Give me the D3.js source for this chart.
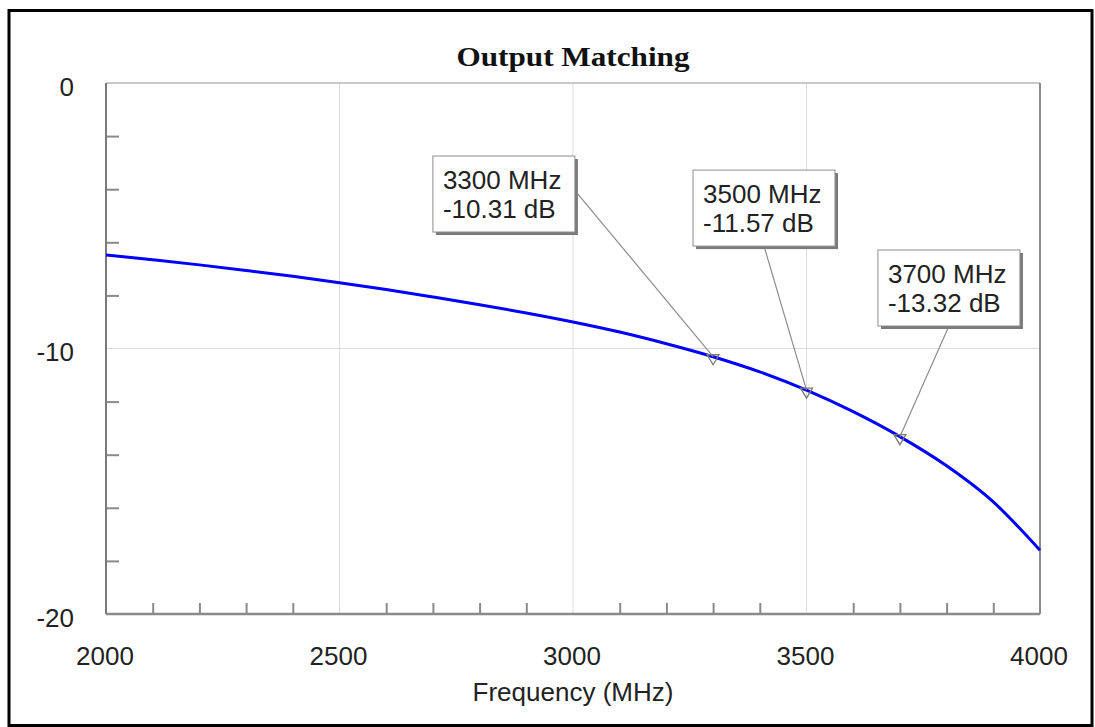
<!DOCTYPE html>
<html><head><meta charset="utf-8">
<script src="https://cdn.jsdelivr.net/npm/d3@7"></script>
<style>
html,body{margin:0;padding:0;background:#fff;}
svg{display:block;}
</style></head><body>
<svg id="chart" width="1095" height="727"></svg>
<script>
// ---- data ----
const freqs = [2000,2100,2200,2300,2400,2500,2600,2700,2800,2900,3000,3100,3200,3300,3400,3500,3600,3700,3800,3900,4000];
const dbValues = [-6.48,-6.66,-6.85,-7.06,-7.28,-7.52,-7.78,-8.06,-8.35,-8.66,-9.00,-9.38,-9.82,-10.31,-10.88,-11.57,-12.38,-13.32,-14.42,-15.78,-17.60];
const xTickValues = [2000,2500,3000,3500,4000];
const yTickValues = [0,-10,-20];
const gridFreqs = [2500,3000,3500];
const gridDb = [-10];
const markerFreqs = [3300,3500,3700];
const markerDb = [-10.31,-11.57,-13.32];
const markerLine1 = ["3300 MHz","3500 MHz","3700 MHz"];
const markerLine2 = ["-10.31 dB","-11.57 dB","-13.32 dB"];
const boxFreq = [2700,3257,3653];   // box left edge (data units)
const boxDb = [-2.75,-3.28,-6.29];  // box top edge (data units)
const titleText = "Output Matching";
const xTitle = "Frequency (MHz)";

// ---- layout ----
const m = {l:106, t:83, r:1040, b:614};
const svg = d3.select("#chart");
const x = d3.scaleLinear().domain([2000,4000]).range([m.l,m.r]);
const y = d3.scaleLinear().domain([-20,0]).range([m.b,m.t]);
const sans = "'Liberation Sans', Arial, sans-serif";

// outer frame
svg.append("rect").attr("x",9).attr("y",10.5).attr("width",1083).attr("height",715)
  .attr("fill","none").attr("stroke","#000").attr("stroke-width",3);

// grid
svg.append("g").selectAll("line").data(gridFreqs).join("line")
  .attr("x1",d=>x(d)).attr("x2",d=>x(d)).attr("y1",m.t).attr("y2",m.b)
  .attr("stroke","#dcdcdc").attr("stroke-width",1);
svg.append("g").selectAll("line").data(gridDb).join("line")
  .attr("x1",m.l).attr("x2",m.r).attr("y1",d=>y(d)).attr("y2",d=>y(d))
  .attr("stroke","#dcdcdc").attr("stroke-width",1);

// minor ticks via axes
const minorX = d3.range(2100,4000,100).filter(v=>!gridFreqs.includes(v));
const minorY = d3.range(-18,0,2).filter(v=>!gridDb.includes(v));
const gx = svg.append("g").attr("transform",`translate(0,${m.b})`)
  .call(d3.axisBottom(x).tickValues(minorX).tickSize(-11).tickFormat(""));
gx.select(".domain").remove();
gx.selectAll("line").attr("stroke","#8a8a8a").attr("stroke-width",2);
const gy = svg.append("g").attr("transform",`translate(${m.l},0)`)
  .call(d3.axisLeft(y).tickValues(minorY).tickSize(-13).tickFormat(""));
gy.select(".domain").remove();
gy.selectAll("line").attr("stroke","#8a8a8a").attr("stroke-width",2);

// plot borders
svg.append("line").attr("x1",m.l).attr("x2",m.r).attr("y1",m.t).attr("y2",m.t).attr("stroke","#c8c8c8").attr("stroke-width",2);
svg.append("line").attr("x1",m.r).attr("x2",m.r).attr("y1",m.t).attr("y2",m.b).attr("stroke","#8a8a8a").attr("stroke-width",2);
svg.append("line").attr("x1",m.l).attr("x2",m.r).attr("y1",m.b).attr("y2",m.b).attr("stroke","#8a8a8a").attr("stroke-width",2.5);
svg.append("line").attr("x1",m.l).attr("x2",m.l).attr("y1",m.t).attr("y2",m.b).attr("stroke","#7a7a7a").attr("stroke-width",2);

// tick labels
const xl = svg.append("g").attr("transform",`translate(-1.5,${m.b})`)
  .call(d3.axisBottom(x).tickValues(xTickValues).tickSize(0).tickPadding(33).tickFormat(d=>String(d)));
xl.select(".domain").remove();
xl.selectAll("text").attr("font-family",sans).attr("font-size",26).attr("fill","#222");
const yl = svg.append("g").attr("transform",`translate(${m.l},0)`)
  .call(d3.axisLeft(y).tickValues(yTickValues).tickSize(0).tickPadding(32).tickFormat(d=>String(d)));
yl.select(".domain").remove();
yl.selectAll("text").attr("font-family",sans).attr("font-size",26).attr("fill","#222").attr("dy","0.48em");

// titles
svg.append("text").attr("x",(m.l+m.r)/2).attr("y",66).attr("text-anchor","middle")
  .attr("font-family","'Liberation Serif','Times New Roman',serif").attr("font-weight","bold")
  .attr("font-size",26.5).attr("textLength",233).attr("lengthAdjust","spacingAndGlyphs")
  .attr("fill","#111").text(titleText);
svg.append("text").attr("x",(m.l+m.r)/2).attr("y",701).attr("text-anchor","middle")
  .attr("font-family",sans).attr("font-size",26).attr("fill","#222").text(xTitle);

// curve
const data = freqs.map((f,i)=>({f, v: dbValues[i]}));
svg.append("path").datum(data)
  .attr("d", d3.line().x(d=>x(d.f)).y(d=>y(d.v)).curve(d3.curveMonotoneX))
  .attr("fill","none").attr("stroke","#0000ff").attr("stroke-width",3);

// annotations
const boxW = 142, boxH = 76;
const ann = markerFreqs.map((f,i)=>({f, v: markerDb[i], l1: markerLine1[i], l2: markerLine2[i], bf: boxFreq[i], bv: boxDb[i]}));
const ag = svg.append("g");
ann.forEach(a=>{
  const px = x(a.f), py = y(a.v);
  const bx = x(a.bf), by = y(a.bv);
  const cx = bx + boxW/2, cy = by + boxH/2;
  const dx = px - cx, dy = py - cy;
  let sx, sy;
  if (Math.abs(dx) > Math.abs(dy)) { sx = dx > 0 ? bx + boxW + 3 : bx; sy = cy; }
  else { sx = cx; sy = dy > 0 ? by + boxH : by; }
  ag.append("line").attr("x1",sx).attr("y1",sy).attr("x2",px).attr("y2",py)
    .attr("stroke","#8c8c8c").attr("stroke-width",1.2);
  ag.append("path").attr("d",`M${px-6},${py-2}L${px+6},${py-2}L${px},${py+8}Z`)
    .attr("fill","none").attr("stroke","#7a7a7a").attr("stroke-width",1.3);
  ag.append("rect").attr("x",bx+3).attr("y",by+3).attr("width",boxW).attr("height",boxH).attr("fill","#7a7a7a");
  ag.append("rect").attr("x",bx).attr("y",by).attr("width",boxW).attr("height",boxH)
    .attr("fill","#fff").attr("stroke","#8c8c8c").attr("stroke-width",1);
  ag.append("text").attr("x",bx+10).attr("y",by+33).attr("font-family",sans).attr("font-size",26).attr("fill","#222").text(a.l1);
  ag.append("text").attr("x",bx+10).attr("y",by+62).attr("font-family",sans).attr("font-size",26).attr("fill","#222").text(a.l2);
});
</script>
</body></html>
